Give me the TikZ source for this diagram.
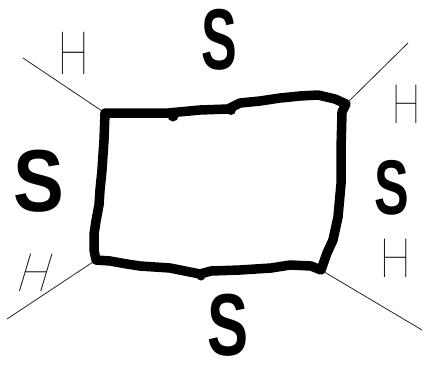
\documentclass[tikz,border=0pt]{standalone}
\usepackage{fontspec}
\newfontfamily\sfontb{Liberation Sans}[BoldFont={* Bold}]
\newfontfamily\hthin{Poppins Thin}
\tikzset{
  sletter/.style={inner sep=0pt, font=\sfontb\bfseries\fontsize{80}{80}\selectfont},
  hletter/.style={inner sep=0pt, font=\hthin\fontsize{50}{50}\selectfont},
  boxedge/.style={line width=9.5pt, line join=round, line cap=round},
  blob/.style={fill=black, draw=none},
  ray/.style={line width=0.8pt, black!85},
}
\begin{document}
\begin{tikzpicture}[x=1pt,y=-1pt]
\useasboundingbox (0,0) rectangle (422,367);
% corners
\coordinate (tl) at (105,113);
\coordinate (tr) at (346,104);
\coordinate (br) at (321,270);
\coordinate (bl) at (96,260);
% outer ends of thin lines
\coordinate (etl) at (23,58);
\coordinate (etr) at (408,43);
\coordinate (ebr) at (422,330);
\coordinate (ebl) at (7,319);
% thin lines
\draw[ray] (etl) -- (tl);
\draw[ray] (tr) -- (etr);
\draw[ray] (br) -- (ebr);
\draw[ray] (bl) -- (ebl);
% thick hand-drawn box
\draw[boxedge] (tl) -- (140,113) -- (168,113) -- (200,110) -- (228,109)
  -- (240,103) -- (260,101) -- (280,98) -- (300,96) -- (318,95) -- (335,99) -- (tr)
  -- (342,112) -- (341,150) -- (341,184) -- (338,217) -- (333,240) -- (327,253) -- (br)
  -- (311,266) -- (290,265) -- (271,268) -- (240,270) -- (211,271) -- (200,274)
  -- (185,271) -- (170,268) -- (140,266) -- (127,264) -- (110,261) -- (bl)
  -- (94,250) -- (94,234) -- (96,221) -- (99,205) -- (100,190) -- (102,170) -- (104,140) -- cycle;
\fill[blob] (173,116) circle (5.5);
\fill[blob] (231,110) circle (5);
\fill[blob] (201,276) circle (4.5);
% S letters
\node[sletter] (stop) at (219,40) {\scalebox{0.67}[1.08]{S}};
\node[sletter] (sleft) at (39,181) {\scalebox{0.95}[1.10]{S}};
\node[sletter] (sright) at (392,188) {\scalebox{0.65}[0.97]{S}};
\node[sletter] (sbot) at (228,325) {\scalebox{0.77}[1.10]{S}};
% H letters
\node[hletter] (htl) at (74,53) {\scalebox{0.93}[1.2]{H}};
\node[hletter] (htr) at (406,104) {\scalebox{0.86}[1.09]{H}};
\node[hletter] (hbr) at (396,258) {\scalebox{0.93}[1.09]{H}};
\begin{scope}[shift={(36,273)}, xslant=0.3]
\node[hletter, transform shape] (hbl) at (0,0) {\scalebox{0.93}[1.06]{H}};
\end{scope}
\end{tikzpicture}
\end{document}
